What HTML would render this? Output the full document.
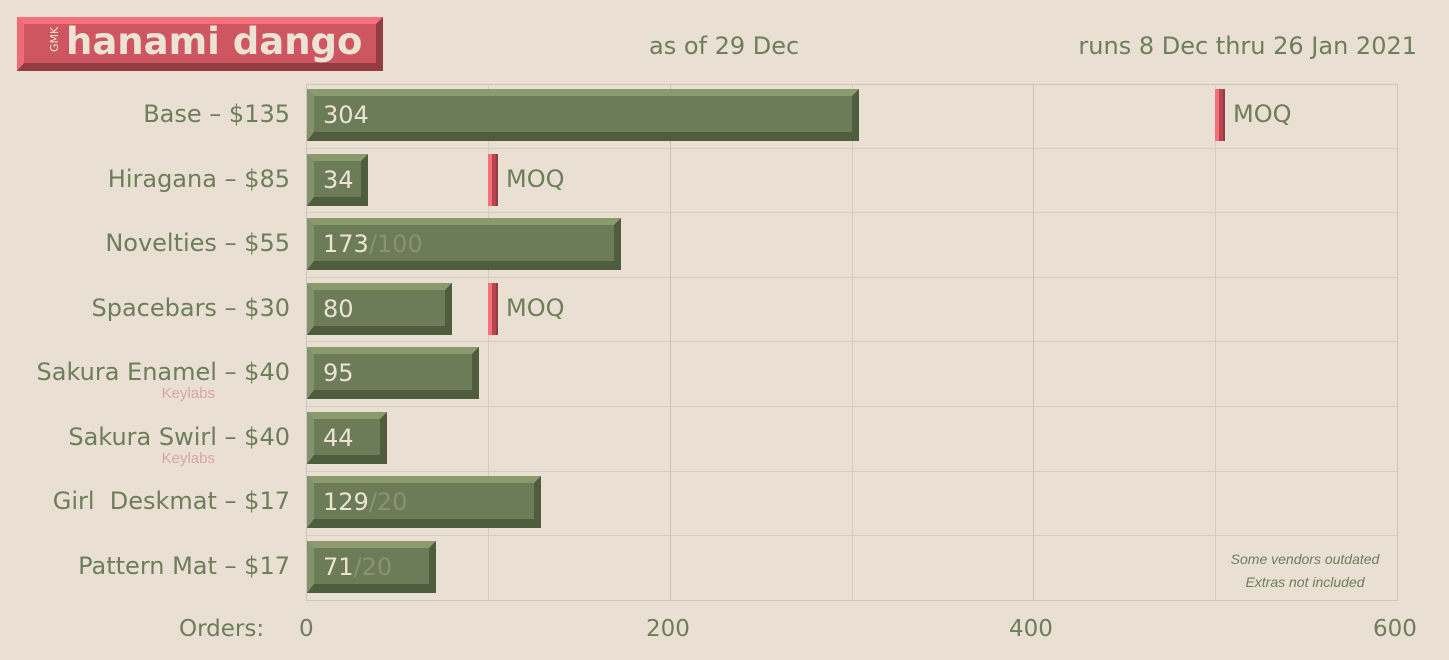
<!DOCTYPE html>
<html><head><meta charset="utf-8"><style>
body{margin:0;width:1449px;height:660px;background:#e9e0d3;position:relative;overflow:hidden;font-family:"DejaVu Sans","Liberation Sans",sans-serif;color:#6e7d5a}
.a{position:absolute}
.bar{position:absolute;box-sizing:border-box;border-style:solid;border-width:7px 7px 9px 7px;border-color:#8b9b6e #4f5c3e #4f5c3e #82926a;background:#6c7b58;height:52px}
.bar span{position:absolute;left:9px;top:5px;font-size:24px;color:#ece3d4;white-space:nowrap}
.bar span i{font-style:normal;color:#879470}
.moq{position:absolute;box-sizing:border-box;width:10px;height:52px;border-left:4px solid #f86f7a;background:#b54651;border-right:2px solid #933c44}
.ml{position:absolute;font-size:24px}
.lbl{position:absolute;right:1159px;font-size:24px;white-space:nowrap;text-align:right}
.kl{position:absolute;right:1234px;font-size:15px;color:#dea4a4;font-family:"Liberation Sans Narrow","Liberation Sans",sans-serif}
.h{position:absolute;left:307px;width:1090px;height:1px;background:#d6cdbf}
.v{position:absolute;top:84px;height:516px;width:1px;background:#d6cdbf}
.t{position:absolute;top:616px;font-size:23px}
</style></head><body>
<div class="a" style="left:17px;top:17px;width:366px;height:54px;box-sizing:border-box;border-style:solid;border-width:7px 7px 8px 7px;border-color:#f8707b #933c44 #933c44 #f06a75;background:#cd5660"></div>
<div class="a" style="left:48px;top:52px;font-size:11px;color:#ece3d4;transform:rotate(-90deg);transform-origin:left top">GMK</div>
<div class="a" style="left:66px;top:20px;font-size:37px;color:#ece3d4;font-weight:bold;letter-spacing:0px">hanami dango</div>
<div class="a" style="left:649px;top:32px;font-size:24px">as of 29 Dec</div>
<div class="a" style="right:32px;top:32px;font-size:24px">runs 8 Dec thru 26 Jan 2021</div>

<div class="a" style="left:306px;top:84px;width:1090px;height:515px;border:1px solid #cfc6b8"></div>
<div class="h" style="top:148px"></div><div class="h" style="top:212px"></div><div class="h" style="top:277px"></div><div class="h" style="top:341px"></div><div class="h" style="top:406px"></div><div class="h" style="top:471px"></div><div class="h" style="top:535px"></div>
<div class="v" style="left:488px"></div><div class="v" style="left:670px;background:#cbc2b4"></div><div class="v" style="left:852px"></div><div class="v" style="left:1033px;background:#cbc2b4"></div><div class="v" style="left:1215px"></div>

<div class="lbl" style="top:100px">Base – $135</div>
<div class="lbl" style="top:165px">Hiragana – $85</div>
<div class="lbl" style="top:229px">Novelties – $55</div>
<div class="lbl" style="top:294px">Spacebars – $30</div>
<div class="lbl" style="top:358px">Sakura Enamel – $40</div>
<div class="kl" style="top:385px">Keylabs</div>
<div class="lbl" style="top:423px">Sakura Swirl – $40</div>
<div class="kl" style="top:450px">Keylabs</div>
<div class="lbl" style="top:487px">Girl&nbsp; Deskmat – $17</div>
<div class="lbl" style="top:552px">Pattern Mat – $17</div>

<div class="bar" style="left:307px;top:89px;width:552px"><span>304</span></div>
<div class="bar" style="left:307px;top:154px;width:61px"><span>34</span></div>
<div class="bar" style="left:307px;top:218px;width:314px"><span>173<i>/100</i></span></div>
<div class="bar" style="left:307px;top:283px;width:145px"><span>80</span></div>
<div class="bar" style="left:307px;top:347px;width:172px"><span>95</span></div>
<div class="bar" style="left:307px;top:412px;width:80px"><span>44</span></div>
<div class="bar" style="left:307px;top:476px;width:234px"><span>129<i>/20</i></span></div>
<div class="bar" style="left:307px;top:541px;width:129px"><span>71<i>/20</i></span></div>

<div class="moq" style="left:1215px;top:89px"></div><div class="ml" style="left:1233px;top:100px">MOQ</div>
<div class="moq" style="left:488px;top:154px"></div><div class="ml" style="left:506px;top:165px">MOQ</div>
<div class="moq" style="left:488px;top:283px"></div><div class="ml" style="left:506px;top:294px">MOQ</div>

<div class="a" style="left:1205px;top:548px;width:200px;text-align:center;font-size:14px;font-style:italic;line-height:23px;font-family:'Liberation Sans Narrow','Liberation Sans',sans-serif">Some vendors outdated<br>Extras not included</div>

<div class="t" style="left:179px">Orders:</div>
<div class="t" style="left:299px">0</div>
<div class="t" style="left:646px">200</div>
<div class="t" style="left:1009px">400</div>
<div class="t" style="left:1373px">600</div>
</body></html>
